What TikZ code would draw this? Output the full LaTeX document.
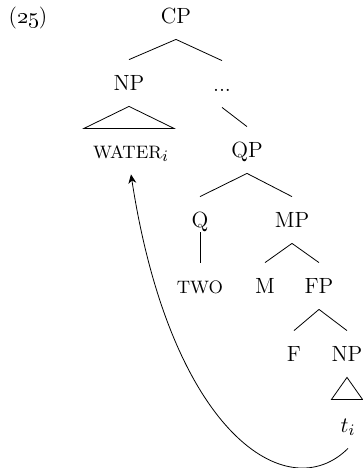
\documentclass[tikz,border=0pt]{standalone}
\usetikzlibrary{arrows.meta}
\newcommand{\smallcap}[1]{{\fontsize{9}{10}\selectfont #1}}
\begin{document}
\begin{tikzpicture}[x=0.5pt, y=-0.5pt,
    every node/.style={font=\fontsize{11}{13}\selectfont},
    cat/.style={text height=7pt, text depth=0pt, inner xsep=1pt, inner ysep=8pt}]
    \useasboundingbox (0,0) rectangle (363,468);
    \node (num) [cat] at (28,16) {(\oldstylenums{25})};
    \node (cp) [cat] at (176,16) {CP};
    \node (np1) [cat] at (129,83) {NP};
    \node (dots) [cat] at (222,84) {...};
    \node (water) [cat] at (131,151) {\smallcap{WATER}$_i$};
    \node (qp) [cat] at (247,150) {QP};
    \node (q) [cat] at (200,220) {Q};
    \node (mp) [cat] at (292,220) {MP};
    \node (two) [cat] at (200,286) {\smallcap{TWO}};
    \node (m) [cat] at (265,286) {M};
    \node (fp) [cat] at (319,286) {FP};
    \node (f) [cat] at (294,354) {F};
    \node (np2) [cat] at (347,354) {NP};
    \node (ti) [cat] at (348,425) {$t_i$};
    % branches
    \draw (cp.south) -- (np1.north);
    \draw (cp.south) -- (dots.north);
    \draw (np1.south) -- ++(-45,22) -- ++(90,0) -- cycle;
    \draw (dots.south) -- (qp.north);
    \draw (qp.south) -- (q.north);
    \draw (qp.south) -- (mp.north);
    \draw ([yshift=-6pt]q.center) -- (two.north);
    \draw (mp.south) -- (m.north);
    \draw (mp.south) -- (fp.north);
    \draw (fp.south) -- (f.north);
    \draw (fp.south) -- (np2.north);
    \draw (np2.south) -- ++(-15.5,22) -- ++(31,0) -- cycle;
    % movement
    \draw[-{Stealth[length=4.5pt,width=4pt]}] (ti.south) .. controls +(-60,60) and +(40,260) .. (water.south);
\end{tikzpicture}
\end{document}
